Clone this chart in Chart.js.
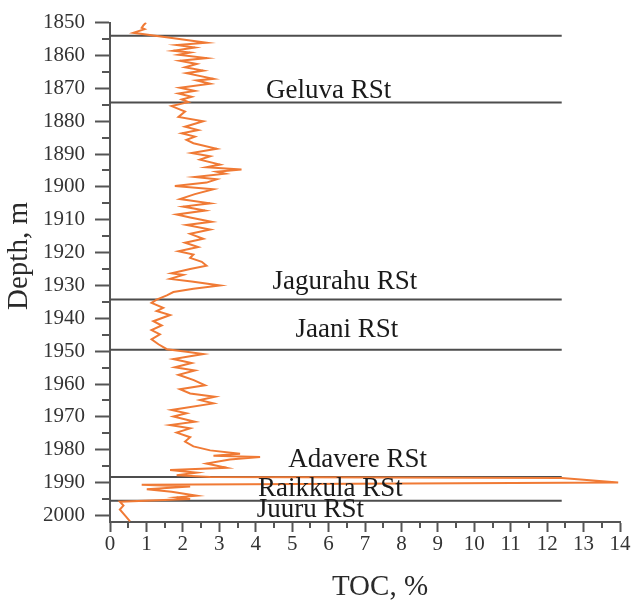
<!DOCTYPE html>
<html><head><meta charset="utf-8">
<script src="https://cdn.jsdelivr.net/npm/chart.js@4/dist/chart.umd.min.js"></script>
<style>html,body{margin:0;padding:0;background:#fff}#wrap{width:632px;height:608px;position:relative}</style>
</head><body><div id="wrap"><canvas id="c" width="632" height="608"></canvas></div>
<script>
// TOC log (depth in m, TOC in %)
const depth = [1850.0,1850.8,1851.6,1852.0,1853.1,1854.6,1856.1,1856.8,1857.6,1858.6,1859.1,1859.8,1860.8,1861.6,1862.6,1863.6,1864.6,1865.4,1867.1,1867.6,1868.6,1869.8,1870.8,1871.6,1872.6,1873.4,1874.2,1875.4,1877.1,1878.7,1880.0,1881.7,1882.7,1883.7,1884.7,1885.7,1886.7,1888.4,1889.7,1890.7,1891.7,1893.2,1894.0,1894.7,1895.4,1896.0,1897.0,1897.7,1898.7,1899.7,1900.7,1902.2,1903.7,1905.0,1906.0,1907.2,1908.4,1909.3,1910.6,1911.6,1913.0,1914.3,1915.8,1917.0,1918.3,1919.6,1920.6,1921.6,1922.8,1924.0,1925.0,1926.3,1926.8,1928.0,1928.8,1930.0,1931.0,1932.0,1933.0,1934.3,1935.3,1936.8,1937.8,1939.0,1940.9,1942.2,1943.6,1944.9,1946.4,1947.9,1949.4,1950.2,1950.9,1952.4,1953.6,1954.9,1955.9,1957.2,1958.8,1960.4,1961.6,1962.9,1963.9,1964.9,1965.9,1967.9,1968.9,1969.9,1971.5,1972.5,1973.5,1974.8,1976.2,1977.5,1979.0,1980.2,1981.2,1981.8,1982.2,1983.0,1984.2,1985.5,1986.2,1987.0,1987.8,1988.3,1988.6,1990.0,1990.7,1991.2,1992.0,1992.8,1994.0,1994.5,1995.0,1995.8,1997.0,1998.2,2000.0,2001.8];
const toc = [0.99,0.92,0.87,0.95,0.64,1.65,2.65,1.83,2.33,1.74,2.20,1.88,2.65,1.92,2.38,2.06,2.56,2.10,2.84,2.38,2.75,1.92,2.33,1.88,2.24,1.97,2.15,1.69,2.06,1.88,2.56,2.06,2.42,1.97,2.33,2.10,2.29,2.93,2.24,2.75,2.47,3.02,2.65,3.61,2.93,3.16,2.33,2.93,2.65,1.78,2.84,2.33,1.92,2.75,2.01,2.61,1.83,2.20,2.79,2.10,2.75,2.20,2.56,2.06,2.42,1.88,2.29,2.20,2.52,2.65,2.20,1.69,2.01,1.65,2.24,3.02,2.29,1.74,1.56,1.28,1.14,1.46,1.28,1.65,1.19,1.42,1.14,1.37,1.14,1.33,1.56,2.10,2.56,1.74,2.24,1.78,2.33,1.88,2.30,2.61,1.92,2.20,2.88,2.47,2.84,1.69,2.10,1.74,2.33,1.65,2.20,1.83,2.20,2.06,2.29,2.75,3.57,2.84,4.12,3.29,2.65,3.20,1.65,2.38,1.83,2.75,12.4,13.95,0.87,2.20,1.01,1.69,2.38,1.83,2.20,0.27,0.37,0.27,0.41,0.55];

// Formation boundaries
const boundaryDepths = [1854.0, 1874.3, 1934.3, 1949.6, 1988.3, 1995.5];
const boundaryTocStart = 0;
const boundaryTocEnd = 12.4;

// Formation labels
const formationNames = ["Geluva RSt","Jagurahu RSt","Jaani RSt","Adavere RSt","Raikkula RSt","Juuru RSt"];
const formationLabelToc = [6.0, 6.45, 6.5, 6.8, 6.05, 5.5];
const formationLabelDepth = [1870.7, 1928.9, 1943.6, 1983.2, 1991.9, 1998.4];

// Axes
const xTickValues = [0,1,2,3,4,5,6,7,8,9,10,11,12,13,14];
const yTickValues = [1850,1860,1870,1880,1890,1900,1910,1920,1930,1940,1950,1960,1970,1980,1990,2000];
const xTitle = "TOC, %";
const yTitle = "Depth, m";

const SERIF = '"Liberation Serif", "DejaVu Serif", serif';
const AXIS_COLOR = '#555';

const datasets = [];
boundaryDepths.forEach(d => {
  datasets.push({
    data: [{x: boundaryTocStart, y: d}, {x: boundaryTocEnd, y: d}],
    borderColor: '#4d4d4d', borderWidth: 2, pointRadius: 0, showLine: true, order: 2
  });
});
datasets.push({
  data: depth.map((d, i) => ({x: toc[i], y: d})),
  borderColor: '#f07a35', borderWidth: 2, pointRadius: 0, showLine: true, tension: 0, order: 1
});

const extras = {
  id: 'extras',
  afterDraw(chart) {
    const ctx = chart.ctx;
    const xs = chart.scales.x, ys = chart.scales.y;
    ctx.save();
    // minor ticks
    ctx.strokeStyle = AXIS_COLOR; ctx.lineWidth = 2;
    for (let v = 1855; v < 2002; v += 10) {
      const py = Math.round(ys.getPixelForValue(v));
      ctx.beginPath(); ctx.moveTo(xs.left - 8, py); ctx.lineTo(xs.left, py); ctx.stroke();
    }
    for (let v = 0.5; v < 14; v += 1) {
      const px = Math.round(xs.getPixelForValue(v));
      ctx.beginPath(); ctx.moveTo(px, ys.bottom); ctx.lineTo(px, ys.bottom + 6); ctx.stroke();
    }
    // formation labels
    ctx.fillStyle = '#1a1a1a';
    ctx.font = '27px ' + SERIF;
    ctx.textAlign = 'center'; ctx.textBaseline = 'middle';
    formationNames.forEach((n, i) => {
      ctx.fillText(n, xs.getPixelForValue(formationLabelToc[i]), ys.getPixelForValue(formationLabelDepth[i]));
    });
    // axis titles
    ctx.fillStyle = '#2a2a2a';
    ctx.font = '29px ' + SERIF;
    ctx.fillText(xTitle, 380, 587);
    ctx.translate(19, 256);
    ctx.rotate(-Math.PI / 2);
    ctx.fillText(yTitle, 0, 0);
    ctx.restore();
  }
};

new Chart(document.getElementById('c'), {
  type: 'scatter',
  data: {datasets},
  plugins: [extras],
  options: {
    responsive: false, animation: false,
    layout: {padding: {top: 18, right: 12, left: 0, bottom: 0}},
    plugins: {legend: {display: false}, tooltip: {enabled: false}},
    scales: {
      x: {
        type: 'linear', min: 0, max: 14,
        afterBuildTicks: s => { s.ticks = xTickValues.map(v => ({value: v})); },
        afterFit: s => { s.height = 86; },
        grid: {drawOnChartArea: false, drawTicks: true, tickLength: 10, tickColor: AXIS_COLOR, tickWidth: 2},
        border: {display: true, color: AXIS_COLOR, width: 2},
        ticks: {font: {family: SERIF, size: 21}, color: '#333', padding: 0, maxRotation: 0, autoSkip: false,
                callback: v => String(v)},
        title: {display: false}
      },
      y: {
        type: 'linear', reverse: true, min: 1850, max: 2002,
        afterBuildTicks: s => { s.ticks = yTickValues.map(v => ({value: v})); },
        afterFit: s => { s.width = 110; },
        grid: {drawOnChartArea: false, drawTicks: true, tickLength: 15, tickColor: AXIS_COLOR, tickWidth: 2},
        border: {display: true, color: AXIS_COLOR, width: 2},
        ticks: {font: {family: SERIF, size: 21}, color: '#333', padding: 10, autoSkip: false,
                callback: v => String(v)},
        title: {display: false}
      }
    }
  }
});
</script></body></html>
